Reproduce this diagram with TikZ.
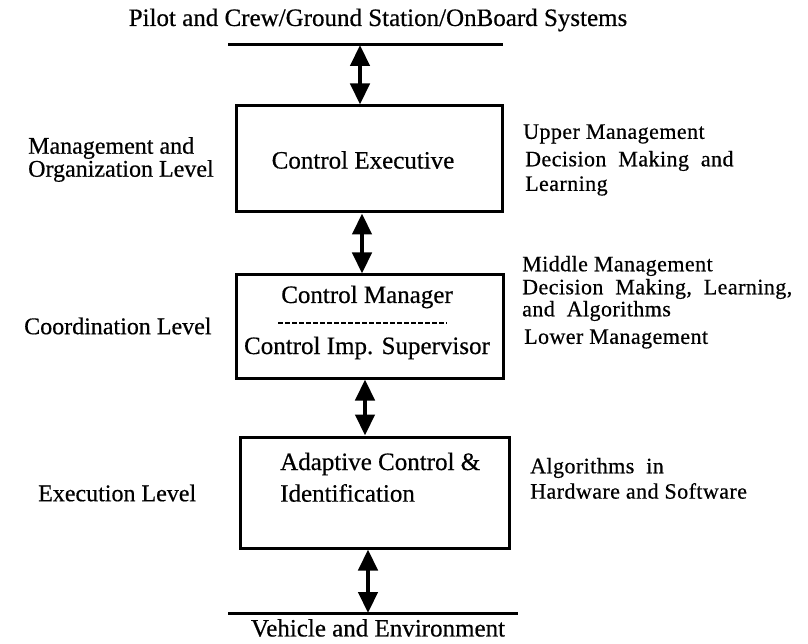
\documentclass[tikz,border=0pt]{standalone}
\usepackage{fontspec}
\setmainfont{Liberation Serif}[FakeBold=0.5]
\usetikzlibrary{arrows.meta}
\tikzset{
  boxnode/.style={draw, line width=3pt, inner sep=0pt},
  hline/.style={line width=3pt},
  dblarrow/.style={line width=4.5pt, {Triangle[length=21pt,width=19pt]}-{Triangle[length=21pt,width=19pt]}},
  maintext/.style={font=\fontsize{25}{29}\selectfont, inner sep=0pt},
  sidetext/.style={font=\fontsize{24}{28}\selectfont, inner sep=0pt, anchor=west, align=left},
  righttext/.style={font=\fontsize{22}{26}\selectfont\addfontfeature{LetterSpace=2}, inner sep=0pt, anchor=west, align=left},
}
\begin{document}
\begin{tikzpicture}[x=1pt,y=-1pt]
\useasboundingbox (0,0) rectangle (808,644);
% top
\node[maintext] (top) at (378,20) {Pilot and Crew/Ground Station/OnBoard Systems};
\coordinate (tl1) at (228,45);
\coordinate (tl2) at (503,45);
\draw[hline] (tl1) -- (tl2);
% boxes
\node[boxnode, minimum width=266pt, minimum height=106pt] (b1) at (369,159) {};
\node[boxnode, minimum width=267pt, minimum height=103pt] (b2) at (369.5,326.5) {};
\node[boxnode, minimum width=269pt, minimum height=111pt] (b3) at (374.5,492.5) {};
% bottom
\coordinate (bl1) at (228,613);
\coordinate (bl2) at (518,613);
\draw[hline] (bl1) -- (bl2);
\node[maintext] (bot) at (378,628) {Vehicle and Environment};
% arrows
\coordinate (a1) at (360,45);
\draw[dblarrow] (a1) -- (a1 |- b1.north);
\coordinate (a2) at (362,0);
\draw[dblarrow] (a2 |- b1.south) -- (a2 |- b2.north);
\coordinate (a3) at (365,0);
\draw[dblarrow] (a3 |- b2.south) -- (a3 |- b3.north);
\coordinate (a4) at (368,613);
\draw[dblarrow] (a4 |- b3.south) -- (a4);
% box texts
\node[maintext] (t1) at (363,160) {Control Executive};
\node[maintext] (t2a) at (367,297) {Control Manager};
\coordinate (d1) at (278,323);
\coordinate (d2) at (447,323);
\draw[line width=1.5pt, dash pattern=on 5pt off 2pt] (d1) -- (d2);
\node[maintext] (t2b) at (367,348) {Control Imp. Supervisor};
\node[maintext, anchor=west] (t3a) at (280,464) {Adaptive Control \&};
\node[maintext, anchor=west] (t3b) at (280,493) {Identification};
% left labels
\node[sidetext] (l1a) at (28,148) {Management and};
\node[sidetext] (l1b) at (28,171) {Organization Level};
\node[sidetext] (l2) at (24,326) {Coordination Level};
\node[sidetext] (l3) at (38,493) {Execution Level};
% right labels
\node[righttext] (r1a) at (523,134) {Upper Management};
\node[righttext] (r1b) at (525,161) {Decision\ \ Making\ \ and};
\node[righttext] (r1c) at (525,186) {Learning};
\node[righttext] (r2a) at (522,266) {Middle Management};
\node[righttext] (r2b) at (522,289) {Decision\ \ Making,\ \ Learning,};
\node[righttext] (r2c) at (522,311) {and\ \ Algorithms};
\node[righttext] (r2d) at (524,339) {Lower Management};
\node[righttext] (r3a) at (530,468) {Algorithms\ \ in};
\node[righttext] (r3b) at (530,491) {Hardware and Software};
\end{tikzpicture}
\end{document}
